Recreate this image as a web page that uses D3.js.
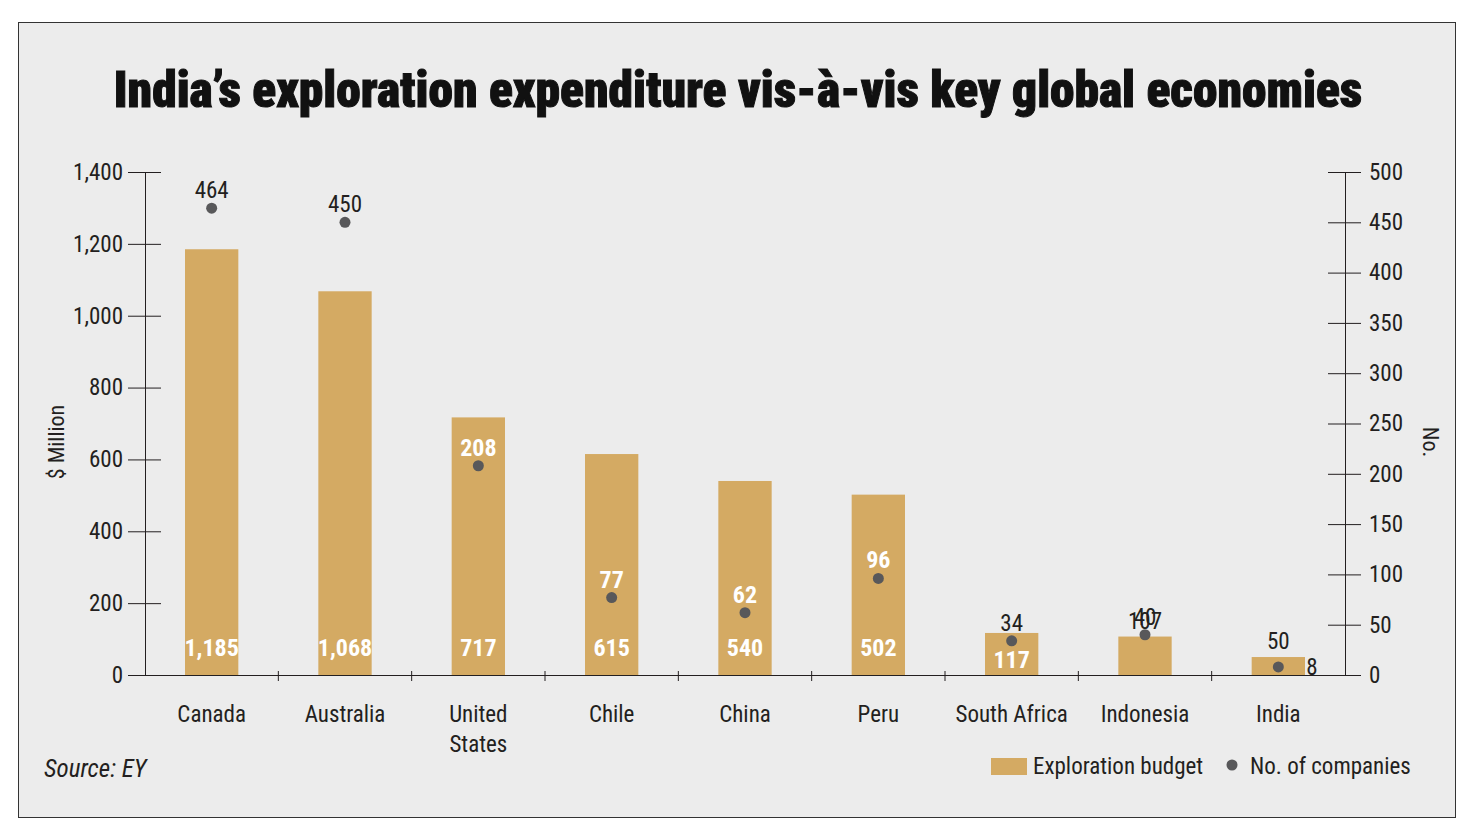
<!DOCTYPE html>
<html><head><meta charset="utf-8">
<script src="https://cdn.jsdelivr.net/npm/d3@7"></script>
<style>
body{margin:0;background:#fff;}
text{font-family:"Liberation Sans Narrow","Roboto Condensed","DejaVu Sans Condensed",Arial,sans-serif;}
</style></head><body>
<svg id="c" width="1476" height="839"></svg>
<script>
const categories=["Canada","Australia","United States","Chile","China","Peru","South Africa","Indonesia","India"];
const budget=[1185,1068,717,615,540,502,117,107,50];
const companies=[464,450,208,77,62,96,34,40,8];
const leftTicks=[0,200,400,600,800,1000,1200,1400];
const rightTicks=[0,50,100,150,200,250,300,350,400,450,500];

const svg=d3.select("#c");
const barCol="#d4aa63", dotCol="#58585a", ink="#231f20";
svg.append("rect").attr("x",18.5).attr("y",22.5).attr("width",1437).attr("height",795)
  .attr("fill","#ececec").attr("stroke","#333").attr("stroke-width",1);
svg.append("text").attr("x",738).attr("y",107).attr("text-anchor","middle")
  .attr("font-size",50).attr("font-weight","900").attr("fill","#111")
  .attr("stroke","#111").attr("stroke-width",1)
  .attr("transform","translate(738,107) scale(0.99,1) translate(-738,-107)")
  .text("India’s exploration expenditure vis-à-vis key global economies");

const x=d3.scaleBand().domain(categories).range([145,1345]).paddingInner(0.6).paddingOuter(0.3);
const xb=d3.scaleBand().domain(categories).range([145,1345]);
const yL=d3.scaleLinear().domain([0,1400]).range([675,172]);
const yR=d3.scaleLinear().domain([0,500]).range([675,172]);

const gl=svg.append("g").attr("transform","translate(145,0)")
  .call(d3.axisLeft(yL).tickValues(leftTicks).tickFormat(d3.format(",")).tickSize(0).tickPadding(22));
gl.select(".domain").attr("stroke",ink);
gl.selectAll(".tick line").attr("x1",-17).attr("x2",16).attr("stroke",ink);
gl.selectAll("text").attr("font-size",23).attr("fill",ink);
const gr=svg.append("g").attr("transform","translate(1345,0)")
  .call(d3.axisRight(yR).tickValues(rightTicks).tickSize(0).tickPadding(24));
gr.select(".domain").attr("stroke",ink);
gr.selectAll(".tick line").attr("x1",-17).attr("x2",16).attr("stroke",ink);
gr.selectAll("text").attr("font-size",23).attr("fill",ink);

svg.selectAll(".bar").data(budget).enter().append("rect")
  .attr("x",(d,i)=>x(categories[i])).attr("width",x.bandwidth())
  .attr("y",d=>yL(d)).attr("height",d=>675-yL(d)).attr("fill",barCol);

svg.append("line").attr("x1",128).attr("x2",1345).attr("y1",675.5).attr("y2",675.5).attr("stroke",ink);
categories.forEach((c,i)=>{
  if(i>0){const bx=xb(c);svg.append("line").attr("x1",bx).attr("x2",bx).attr("y1",671).attr("y2",681).attr("stroke",ink);}
  const t=svg.append("text").attr("x",xb(c)+xb.bandwidth()/2).attr("y",722).attr("text-anchor","middle")
    .attr("font-size",23).attr("fill",ink);
  const parts=c==="United States"?["United","States"]:[c];
  parts.forEach((p,k)=>t.append("tspan").attr("x",xb(c)+xb.bandwidth()/2).attr("dy",k?30:0).text(p));
});

budget.forEach((v,i)=>{
  const cx=xb(categories[i])+xb.bandwidth()/2, top=yL(v);
  const inside=675-top>40;
  const y=inside?Math.min(672,Math.max(656,top+35)):top-8;
  svg.append("text").attr("x",cx).attr("y",y).attr("text-anchor","middle")
    .attr("font-size",inside?24:23).attr("font-weight",inside?"bold":"normal")
    .attr("fill",inside?"#fff":ink).text(d3.format(",")(v));
});
companies.forEach((v,i)=>{
  const cx=xb(categories[i])+xb.bandwidth()/2, cy=yR(v);
  svg.append("circle").attr("cx",cx).attr("cy",cy).attr("r",5.5).attr("fill",dotCol);
  const inBar=cy>yL(budget[i])+30;
  if(v<20){
    svg.append("text").attr("x",cx+28).attr("y",cy+8).attr("font-size",23).attr("fill",ink).text(v);
  } else {
    svg.append("text").attr("x",cx).attr("y",cy-10).attr("text-anchor","middle")
      .attr("font-size",inBar?24:23).attr("font-weight",inBar?"bold":"normal")
      .attr("fill",inBar?"#fff":ink).text(v);
  }
});

svg.append("text").attr("transform","translate(64,442) rotate(-90)").attr("text-anchor","middle")
  .attr("font-size",22).attr("fill",ink).text("$ Million");
svg.append("text").attr("transform","translate(1423,442) rotate(90)").attr("text-anchor","middle")
  .attr("font-size",22).attr("fill",ink).text("No.");
svg.append("text").attr("x",44).attr("y",777).attr("font-size",25).attr("font-style","italic")
  .attr("fill",ink).text("Source: EY");
svg.append("rect").attr("x",991).attr("y",758).attr("width",36).attr("height",17).attr("fill",barCol);
svg.append("text").attr("x",1033).attr("y",774).attr("font-size",23).attr("fill",ink).text("Exploration budget");
svg.append("circle").attr("cx",1232).attr("cy",765).attr("r",5.5).attr("fill",dotCol);
svg.append("text").attr("x",1250).attr("y",774).attr("font-size",23).attr("fill",ink).text("No. of companies");
</script></body></html>
